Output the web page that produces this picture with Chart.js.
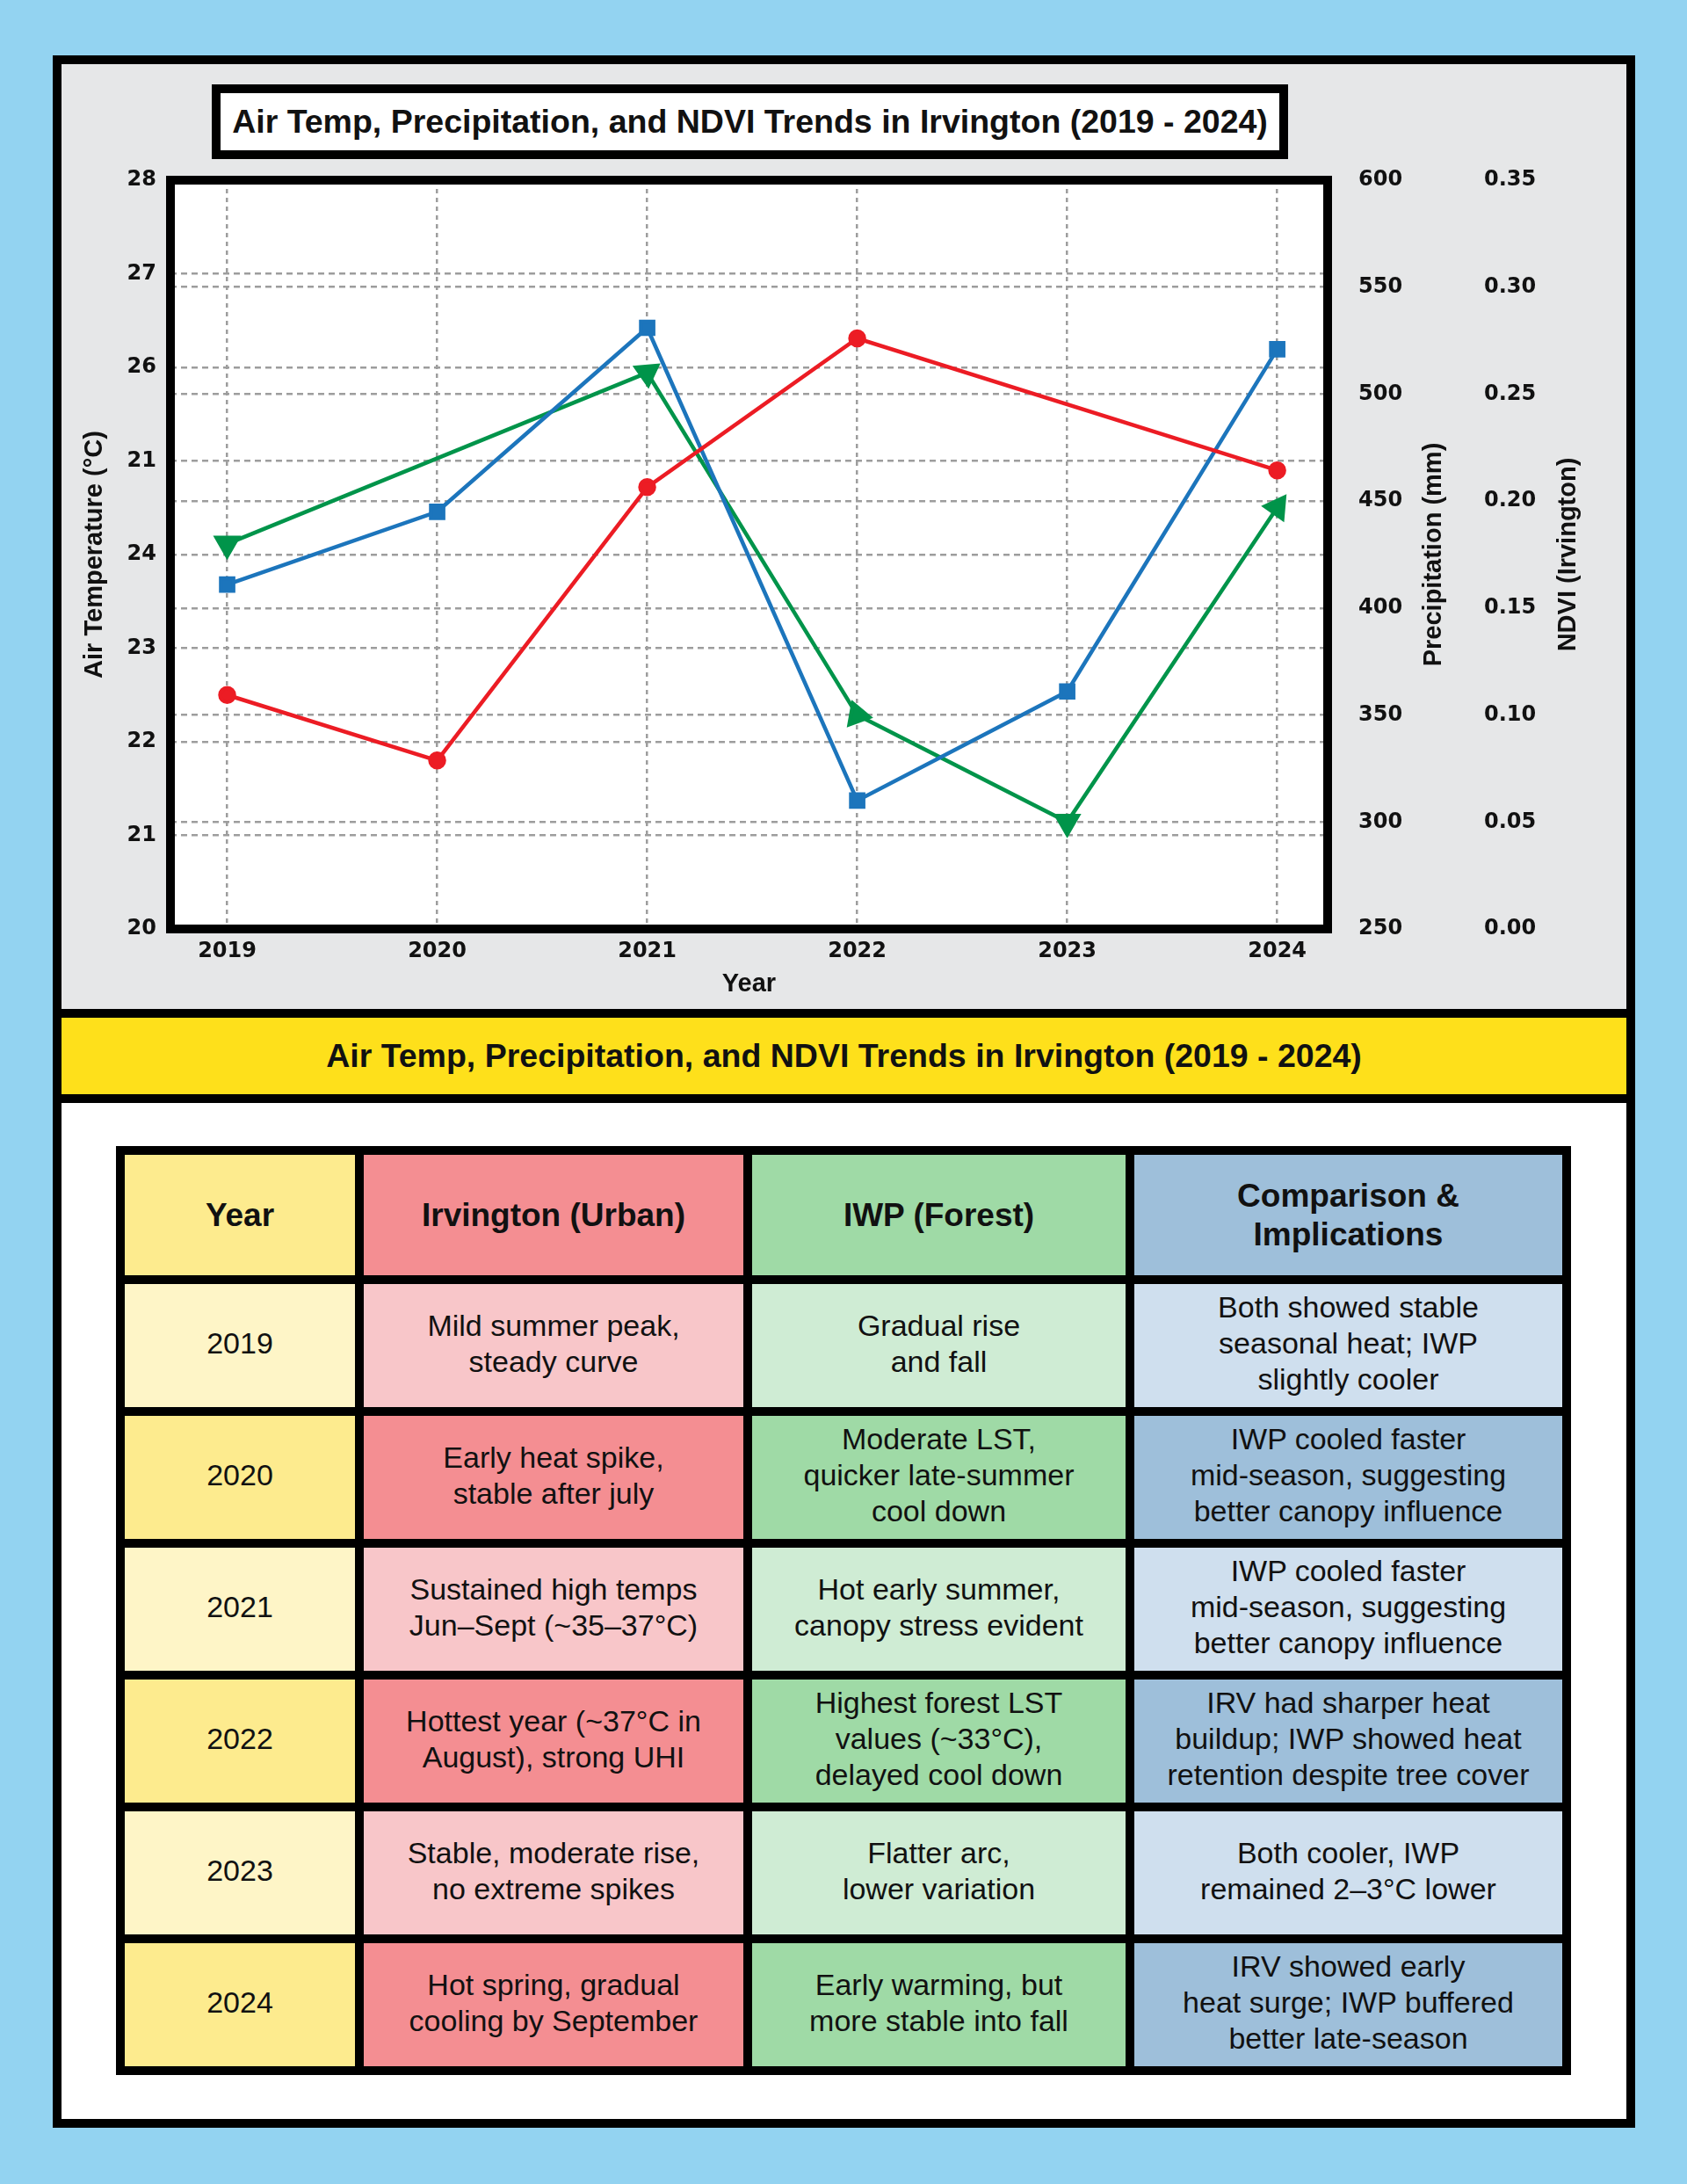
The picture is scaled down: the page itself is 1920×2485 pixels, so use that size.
<!DOCTYPE html>
<html>
<head>
<meta charset="utf-8">
<script src="https://cdn.jsdelivr.net/npm/chart.js@4.4.1/dist/chart.umd.min.js"></script>
<style>
  html, body { margin: 0; padding: 0; }
  body {
    width: 1920px;
    height: 2485px;
    background: #93d3f1;
    position: relative;
    font-family: "Liberation Sans", Arial, sans-serif;
    color: #111;
  }
  .frame {
    position: absolute;
    left: 60px; top: 63px;
    width: 1801px; height: 2358px;
    box-sizing: border-box;
    border: 10px solid #000;
    background: #fff;
  }
  .panel {
    position: absolute;
    left: 70px; top: 73px;
    width: 1781px; height: 1075px;
    background: #e6e7e8;
  }
  .band {
    position: absolute;
    left: 70px; top: 1148px;
    width: 1781px; height: 87px;
    border-top: 10px solid #000;
    border-bottom: 10px solid #000;
    background: #fee01b;
    display: flex; align-items: center; justify-content: center;
    font-weight: bold; font-size: 37.5px;
  }
  .chart-title {
    position: absolute;
    left: 241px; top: 96px;
    width: 1225px; height: 85px;
    box-sizing: border-box;
    border: 10px solid #000;
    background: #fff;
    display: flex; align-items: center; justify-content: center;
    font-weight: bold; font-size: 37.5px;
  }
  #chartBox {
    position: absolute;
    left: 70px; top: 73px;
    width: 1783px; height: 1075px;
  }
  .table {
    position: absolute;
    left: 132px; top: 1304px;
    width: 1656px;
    box-sizing: border-box;
    background: #000;
    padding: 10px;
    display: grid;
    grid-template-columns: 262px 432px 425px 487px;
    grid-template-rows: 137px repeat(6, 140px);
    gap: 10px;
  }
  .cell {
    display: flex; align-items: center; justify-content: center;
    text-align: center;
    white-space: pre-line;
    font-size: 34px;
    line-height: 41px;
    padding-bottom: 5px;
    box-sizing: border-box;
  }
  .cell.head { font-weight: bold; font-size: 37px; line-height: 44px; padding-bottom: 0; }
</style>
</head>
<body>
<div class="frame"></div>
<div class="panel"></div>
<div class="chart-title">Air Temp, Precipitation, and NDVI Trends in Irvington (2019 - 2024)</div>
<div id="chartBox"><canvas id="trend"></canvas></div>
<div class="band">Air Temp, Precipitation, and NDVI Trends in Irvington (2019 - 2024)</div>
<div class="table" id="notes"></div>

<script>
// chart values
const years = [2019, 2020, 2021, 2022, 2023, 2024];
const airTemp = [22.5, 21.8, 24.72, 26.31, null, 24.9];        // °C, left axis
const precipitation = [411, 445, 531, 310, 361, 521];          // mm
const ndvi = [0.18, null, 0.26, 0.10, 0.05, 0.197];            // Irvington
const tempTickLabels = ["20", "21", "22", "23", "24", "21", "26", "27", "28"];
const ndviArrowTurn = [180, 0, 55, 340, 180, 35];

// table text
const tableHead = ["Year", "Irvington (Urban)", "IWP (Forest)", "Comparison &\nImplications"];
const urbanNotes = [
  "Mild summer peak,\nsteady curve",
  "Early heat spike,\nstable after july",
  "Sustained high temps\nJun\u2013Sept (~35\u201337\u00b0C)",
  "Hottest year (~37\u00b0C in\nAugust), strong UHI",
  "Stable, moderate rise,\nno extreme spikes",
  "Hot spring, gradual\ncooling by September"
];
const forestNotes = [
  "Gradual rise\nand fall",
  "Moderate LST,\nquicker late-summer\ncool down",
  "Hot early summer,\ncanopy stress evident",
  "Highest forest LST\nvalues (~33\u00b0C),\ndelayed cool down",
  "Flatter arc,\nlower variation",
  "Early warming, but\nmore stable into fall"
];
const comparisonNotes = [
  "Both showed stable\nseasonal heat; IWP\nslightly cooler",
  "IWP cooled faster\nmid-season, suggesting\nbetter canopy influence",
  "IWP cooled faster\nmid-season, suggesting\nbetter canopy influence",
  "IRV had sharper heat\nbuildup; IWP showed heat\nretention despite tree cover",
  "Both cooler, IWP\nremained 2\u20133\u00b0C lower",
  "IRV showed early\nheat surge; IWP buffered\nbetter late-season"
];

const darkColors = ["#fdeb8e", "#f48e92", "#9fdaa6", "#9ebfda"];
const lightColors = ["#fef5c7", "#f8c6c9", "#cfecd4", "#cfdfee"];

function buildTable() {
  const table = document.getElementById("notes");
  const addCell = (text, color, head) => {
    const cell = document.createElement("div");
    cell.className = head ? "cell head" : "cell";
    cell.style.background = color;
    cell.textContent = text;
    table.appendChild(cell);
  };
  tableHead.forEach((text, c) => addCell(text, darkColors[c], true));
  years.forEach((year, r) => {
    const colors = r % 2 === 0 ? lightColors : darkColors;
    [String(year), urbanNotes[r], forestNotes[r], comparisonNotes[r]]
      .forEach((text, c) => addCell(text, colors[c], false));
  });
}

const pairs = (values) => years.map((year, i) => ({ x: year, y: values[i] }));

const tickFont = { family: "'DejaVu Sans', sans-serif", size: 24, weight: "bold" };
const titleFont = { family: "'Liberation Sans', Arial, sans-serif", size: 29, weight: "bold" };
const gridColor = "#9d9d9d";

// white plot background and the heavy black frame around it
const plotFrame = {
  id: "plotFrame",
  beforeDraw(chart) {
    const { ctx, chartArea: a } = chart;
    ctx.save();
    ctx.fillStyle = "#ffffff";
    ctx.fillRect(a.left, a.top, a.right - a.left, a.bottom - a.top);
    ctx.restore();
  },
  afterDraw(chart) {
    const { ctx, chartArea: a } = chart;
    ctx.save();
    ctx.strokeStyle = "#000";
    ctx.lineWidth = 10;
    ctx.strokeRect(a.left, a.top, a.right - a.left, a.bottom - a.top);
    ctx.restore();
  }
};

// right side titles read bottom-to-top, like the left one
const sideTitles = {
  id: "sideTitles",
  afterDraw(chart, args, opts) {
    const { ctx, chartArea } = chart;
    const cy = (chartArea.top + chartArea.bottom) / 2;
    opts.items.forEach((item) => {
      const scale = chart.scales[item.axis];
      ctx.save();
      ctx.translate(scale.left + item.offset, cy);
      ctx.rotate(-Math.PI / 2);
      ctx.font = `bold ${titleFont.size}px ${titleFont.family}`;
      ctx.fillStyle = "#111";
      ctx.textAlign = "center";
      ctx.textBaseline = "middle";
      ctx.fillText(item.text, 0, 0);
      ctx.restore();
    });
  }
};

buildTable();

new Chart(document.getElementById("trend"), {
  type: "line",
  data: {
    datasets: [
      {
        label: "Air Temperature",
        data: pairs(airTemp),
        yAxisID: "yTemp",
        borderColor: "#ec1c24",
        backgroundColor: "#ec1c24",
        borderWidth: 4.5,
        pointStyle: "circle",
        pointRadius: 8,
        spanGaps: true
      },
      {
        label: "Precipitation",
        data: pairs(precipitation),
        yAxisID: "yPrecip",
        borderColor: "#1c75bc",
        backgroundColor: "#1c75bc",
        borderWidth: 4.5,
        pointStyle: "rect",
        pointRadius: 10,
        spanGaps: true
      },
      {
        label: "NDVI",
        data: pairs(ndvi),
        yAxisID: "yNdvi",
        borderColor: "#00944a",
        backgroundColor: "#00944a",
        borderWidth: 4.5,
        pointStyle: "triangle",
        pointRadius: 14,
        pointRotation: ndviArrowTurn,
        spanGaps: true
      }
    ]
  },
  options: {
    responsive: true,
    maintainAspectRatio: false,
    animation: false,
    layout: { padding: { top: 132, left: 0, right: 0, bottom: 0 } },
    plugins: {
      legend: { display: false },
      tooltip: { enabled: false },
      sideTitles: {
        items: [
          { axis: "yPrecip", text: "Precipitation (mm)", offset: 121 },
          { axis: "yNdvi", text: "NDVI (Irvington)", offset: 124 }
        ]
      }
    },
    scales: {
      x: {
        type: "linear",
        min: 2018.73,
        max: 2024.24,
        afterBuildTicks: (scale) => { scale.ticks = years.map((v) => ({ value: v })); },
        afterFit: (scale) => { scale.height = 91; },
        ticks: { color: "#111", font: tickFont, padding: 11, callback: (v) => String(v) },
        grid: { color: gridColor, lineWidth: 2.5, drawTicks: false },
        border: { display: false, dash: [5, 5] },
        title: { display: true, text: "Year", color: "#111", font: titleFont, padding: { top: 0, bottom: 11 } }
      },
      yTemp: {
        position: "left",
        min: 20,
        max: 28,
        afterFit: (scale) => { scale.width = 124; },
        ticks: { stepSize: 1, color: "#111", font: tickFont, padding: 16,
          callback: (v, i) => tempTickLabels[i] },
        grid: { color: gridColor, lineWidth: 2.5, drawTicks: false },
        border: { display: false, dash: [7, 5] },
        title: { display: true, text: "Air Temperature (\u00b0C)", color: "#111", font: titleFont, padding: { top: 21, bottom: 0 } }
      },
      yPrecip: {
        position: "right",
        min: 250,
        max: 600,
        afterFit: (scale) => { scale.width = 150; },
        ticks: { stepSize: 50, color: "#111", font: tickFont, padding: 35 },
        grid: { color: gridColor, lineWidth: 2.5, drawTicks: false },
        border: { display: false, dash: [7, 5] }
      },
      yNdvi: {
        position: "right",
        min: 0,
        max: 0.35,
        afterFit: (scale) => { scale.width = 192; },
        ticks: { stepSize: 0.05, color: "#111", font: tickFont, padding: 28,
          callback: (v) => Number(v).toFixed(2) },
        grid: { display: false, drawTicks: false },
        border: { display: false }
      }
    }
  },
  plugins: [plotFrame, sideTitles]
});
</script>
</body>
</html>
